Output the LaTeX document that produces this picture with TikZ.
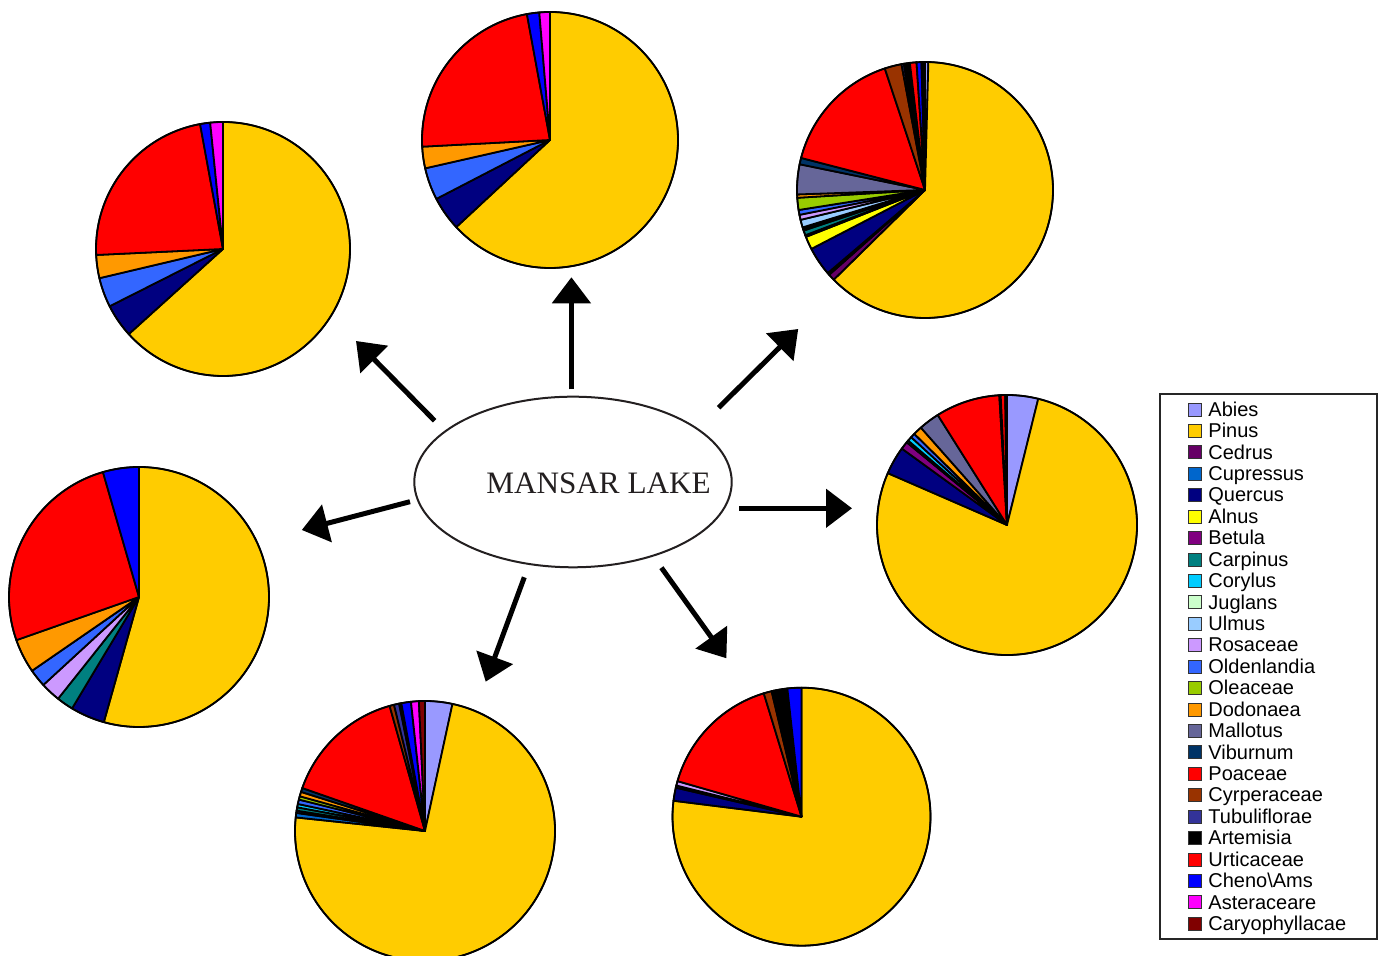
\documentclass[tikz,border=0pt]{standalone}
\usepackage{fontspec}
\setmainfont{Liberation Serif}
\newfontfamily\legfont{Liberation Sans}
\usetikzlibrary{shapes.geometric,arrows.meta}
\definecolor{cAbies}{HTML}{9999FF}
\definecolor{cPinus}{HTML}{FFCC00}
\definecolor{cCedrus}{HTML}{660066}
\definecolor{cCupressus}{HTML}{0066CC}
\definecolor{cQuercus}{HTML}{000080}
\definecolor{cAlnus}{HTML}{FFFF00}
\definecolor{cBetula}{HTML}{800080}
\definecolor{cCarpinus}{HTML}{008080}
\definecolor{cCorylus}{HTML}{00CCFF}
\definecolor{cJuglans}{HTML}{CCFFCC}
\definecolor{cUlmus}{HTML}{99CCFF}
\definecolor{cRosaceae}{HTML}{CC99FF}
\definecolor{cOldenlandia}{HTML}{3366FF}
\definecolor{cOleaceae}{HTML}{99CC00}
\definecolor{cDodonaea}{HTML}{FF9900}
\definecolor{cMallotus}{HTML}{666699}
\definecolor{cViburnum}{HTML}{003366}
\definecolor{cPoaceae}{HTML}{FF0000}
\definecolor{cCyperaceae}{HTML}{993300}
\definecolor{cTubuliflorae}{HTML}{333399}
\definecolor{cArtemisia}{HTML}{000000}
\definecolor{cUrticaceae}{HTML}{FF0000}
\definecolor{cCheno}{HTML}{0000FF}
\definecolor{cAster}{HTML}{FF00FF}
\definecolor{cCaryo}{HTML}{800000}
\definecolor{lakegray}{HTML}{231F20}
\newcommand\drawpie[4]{%
  \foreach \sa/\ea/\col in {#4}{%
    \filldraw[slice,fill=\col] (#1,#2) -- ++(\sa:#3) arc[start angle=\sa,end angle=\ea,radius=#3] -- cycle;}%
  \draw[pieborder] (#1,#2) circle[radius=#3];}
\begin{document}
\begin{tikzpicture}[x=0.5pt,y=0.5pt,
  slice/.style={draw=black,line width=0.9pt,line join=round},
  pieborder/.style={draw=black,line width=0.8pt},
  arw/.style={line width=2.5pt,-{Triangle[length=13pt,width=19pt]}},
  swatch/.style={draw=black!80,line width=0.5pt,minimum size=6.5pt,inner sep=0pt},
  legtext/.style={font=\legfont\fontsize{10pt}{12pt}\selectfont,inner sep=0pt,anchor=base west}]
\useasboundingbox (0,0) rectangle (1380,956);
\clip (0,0) rectangle (1380,956);
\fill[white] (0,0) rectangle (1380,956);

% pie centres
\coordinate (pie1) at (223,707);
\coordinate (pie2) at (550,816);
\coordinate (pie3) at (925,766);
\coordinate (pie4) at (1007,431);
\coordinate (pie5) at (425,125);
\coordinate (pie6) at (801.5,139.3);
\coordinate (pie7) at (139,359);

% pie 1 (top left)
\drawpie{223}{707}{127}{90/-137.9/cPinus, -137.9/-153.2/cQuercus, -153.2/-166.7/cOldenlandia,
  -166.7/-177.3/cDodonaea, -177.3/-259.6/cPoaceae, -259.6/-264.2/cCheno, -264.2/-270/cAster}
% pie 2 (top centre)
\drawpie{550}{816}{128}{90/-137.1/cPinus, -137.1/-152.6/cQuercus, -152.6/-167.2/cOldenlandia,
  -167.2/-177/cDodonaea, -177/-259.6/cPoaceae, -259.6/-265.2/cCheno, -265.2/-270/cAster}
% pie 3 (top right)
\drawpie{925}{766}{128}{90/88.5/cAbies, 88.5/-135.5/cPinus, -135.5/-138.5/cCedrus,
  -138.5/-139.5/cCupressus, -139.5/-152.6/cQuercus, -152.6/-158.5/cAlnus,
  -158.5/-159.3/cBetula, -159.3/-161.5/cCarpinus, -161.5/-162.3/cCorylus,
  -162.3/-163/cJuglans, -163/-166.5/cUlmus, -166.5/-168.8/cRosaceae,
  -168.8/-171/cOldenlandia, -171/-176.5/cOleaceae, -176.5/-178/cDodonaea,
  -178/-191.6/cMallotus, -191.6/-194.5/cViburnum, -194.5/-251.7/cPoaceae,
  -251.7/-259.4/cCyperaceae, -259.4/-260.5/cTubuliflorae, -260.5/-263.2/cArtemisia,
  -263.2/-266.2/cUrticaceae, -266.2/-268.4/cCheno, -268.4/-269.3/cAster, -269.3/-270/cCaryo}
% pie 4 (right)
\drawpie{1007}{431}{130}{90/76.1/cAbies, 76.1/-203.5/cPinus, -203.5/-216/cQuercus,
  -216/-219.5/cBetula, -219.5/-220.5/cCarpinus, -220.5/-222.5/cCorylus,
  -222.5/-224.5/cOldenlandia, -224.5/-228.5/cDodonaea, -228.5/-237.8/cMallotus,
  -237.8/-266.6/cPoaceae, -266.6/-267.2/cCyperaceae, -267.2/-269.2/cUrticaceae, -269.2/-270/cCaryo}
% pie 5 (bottom left)
\drawpie{425}{125}{130}{90/77.8/cAbies, 77.8/-186/cPinus, -186/-188/cCupressus,
  -188/-189/cQuercus, -189/-190.5/cCarpinus, -190.5/-192/cCorylus,
  -192/-194/cOldenlandia, -194/-195.5/cOleaceae, -195.5/-197.5/cDodonaea,
  -197.5/-199.3/cViburnum, -199.3/-254.2/cPoaceae, -254.2/-256.2/cCyperaceae,
  -256.2/-258.5/cTubuliflorae, -258.5/-259.5/cArtemisia, -259.5/-263.8/cCheno,
  -263.8/-267.3/cAster, -267.3/-270/cCaryo}
% pie 6 (bottom right)
\drawpie{801.5}{139.3}{129}{90/-187.1/cPinus, -187.1/-193/cQuercus, -193/-194/cBetula,
  -194/-196/cRosaceae, -196/-253/cPoaceae, -253/-256.6/cCyperaceae,
  -256.6/-257.5/cTubuliflorae, -257.5/-263.7/cArtemisia, -263.7/-270/cCheno}
% pie 7 (left)
\drawpie{139}{359}{130}{90/-105.7/cPinus, -105.7/-121/cQuercus, -121/-128.5/cCarpinus,
  -128.5/-137.4/cRosaceae, -137.4/-145.4/cOldenlandia, -145.4/-160.6/cDodonaea,
  -160.6/-253.9/cPoaceae, -253.9/-270/cCheno}

% centre
\node[ellipse,draw=lakegray,line width=1pt,minimum width=158.7pt,minimum height=85.3pt,inner sep=0pt] (lake) at (573,474) {};
\node[text=lakegray,font=\fontsize{15.6pt}{18pt}\selectfont,inner sep=0pt] (lakelabel) at (598.5,473) {MANSAR LAKE};

% arrows
\coordinate (aUs) at (571.4,566.7);  \coordinate (aUe) at (571.4,678.7);
\coordinate (aULs) at (434.6,535.3); \coordinate (aULe) at (356,615);
\coordinate (aURs) at (718.6,548.3); \coordinate (aURe) at (798.2,627);
\coordinate (aLs) at (410,454.3);    \coordinate (aLe) at (301.8,426);
\coordinate (aRs) at (739,447.7);    \coordinate (aRe) at (852,447.7);
\coordinate (aLLs) at (524.3,378.7); \coordinate (aLLe) at (485.7,274.3);
\coordinate (aLRs) at (661.4,388.3); \coordinate (aLRe) at (726.4,297.7);
\draw[arw] (aUs) -- (aUe);
\draw[arw] (aULs) -- (aULe);
\draw[arw] (aURs) -- (aURe);
\draw[arw] (aLs) -- (aLe);
\draw[arw] (aRs) -- (aRe);
\draw[arw] (aLLs) -- (aLLe);
\draw[arw] (aLRs) -- (aLRe);

% legend
\node[draw=black!85,line width=0.75pt,minimum width=108.5pt,minimum height=272.5pt,inner sep=0pt] (legend) at (1268.5,289.5) {};
\foreach \nm/\col [count=\i from 0] in {Abies/cAbies, Pinus/cPinus, Cedrus/cCedrus,
  Cupressus/cCupressus, Quercus/cQuercus, Alnus/cAlnus, Betula/cBetula,
  Carpinus/cCarpinus, Corylus/cCorylus, Juglans/cJuglans, Ulmus/cUlmus,
  Rosaceae/cRosaceae, Oldenlandia/cOldenlandia, Oleaceae/cOleaceae,
  Dodonaea/cDodonaea, Mallotus/cMallotus, Viburnum/cViburnum, Poaceae/cPoaceae,
  Cyrperaceae/cCyperaceae, Tubuliflorae/cTubuliflorae, Artemisia/cArtemisia,
  Urticaceae/cUrticaceae, Cheno\textbackslash Ams/cCheno, Asteraceare/cAster,
  Caryophyllacae/cCaryo}{
  \pgfmathsetmacro\yy{546.4-21.43*\i}
  \node[swatch,fill=\col] (sw\i) at (1195,\yy) {};
  \node[legtext] (lg\i) at (1208,\yy-6.6) {\nm};
}
\end{tikzpicture}
\end{document}
